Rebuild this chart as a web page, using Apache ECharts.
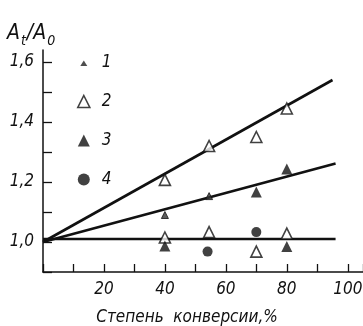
<!DOCTYPE html>
<html>
<head>
<meta charset="utf-8">
<script src="https://cdn.jsdelivr.net/npm/echarts@6/dist/echarts.min.js"></script>
<style>
  html, body { margin: 0; padding: 0; background: #fff; }
  #chart { width: 363px; height: 326px; }
</style>
</head>
<body>
<div id="chart"></div>
<script>
// точки (степень конверсии, At/A0)
var series1 = [[40, 1.09], [54.5, 1.153]]
var series2 = [[40, 1.207], [54.5, 1.32], [70, 1.35], [80, 1.445], [40, 1.015], [54.5, 1.033], [70, 0.968], [80, 1.028]]
var series3 = [[70, 1.167], [80, 1.243], [40, 0.987], [80, 0.985]]
var series4 = [[54, 0.968], [70, 1.033]]
// прямые
var lineUpper = [[0, 1.0], [95, 1.54]]
var lineMiddle = [[0, 1.0], [96, 1.262]]
var lineLower = [[0, 1.01], [96, 1.01]]
var xLabels = [20, 40, 60, 80, 100]
var yLabels = [1.0, 1.2, 1.4, 1.6]

var font = "'Liberation Sans Narrow', 'DejaVu Sans Condensed', sans-serif"
var myChart = echarts.init(document.getElementById('chart'))

function fitLine(data) {
  return {
    type: 'line',
    data: data,
    symbol: 'none',
    silent: true,
    legendHoverLink: false,
    lineStyle: { color: '#111', width: 2.6 },
    z: 1,
  }
}

myChart.setOption({
  animation: false,
  backgroundColor: '#fff',
  grid: { left: 43, right: 0, top: 50, bottom: 54, outerBoundsMode: 'none' },
  legend: {
    orient: 'vertical',
    left: 72,
    top: 49,
    itemWidth: 12,
    itemHeight: 12,
    itemGap: 22,
    data: [
      // маленький треугольник: лишние точки M задают поле вокруг значка
      { name: '1', icon: 'path://M0,0M12,12M2.5,9.5L6,4L9.5,9.5Z', itemStyle: { color: '#222', borderWidth: 0 } },
      { name: '2', icon: 'triangle', itemStyle: { color: '#fff', borderColor: '#111', borderWidth: 1.6 } },
      { name: '3', icon: 'triangle', itemStyle: { color: '#111', borderWidth: 0 } },
      { name: '4', icon: 'circle', itemStyle: { color: '#111', borderWidth: 0 } },
    ],
    textStyle: {
      fontFamily: font,
      fontStyle: 'italic',
      fontSize: 17,
      color: '#111',
      padding: [0, 0, 0, 7],
    },
  },
  xAxis: {
    type: 'value',
    min: 0,
    max: 105,
    interval: 10,
    splitLine: { show: false },
    axisLine: { lineStyle: { color: '#111', width: 1.5 } },
    axisTick: { inside: true, length: 8, lineStyle: { color: '#111', width: 1.3 } },
    axisLabel: {
      margin: 9,
      fontFamily: font,
      fontStyle: 'italic',
      fontSize: 17,
      color: '#111',
      formatter: function (v) {
        return xLabels.indexOf(Math.round(v)) >= 0 ? String(Math.round(v)) : ''
      },
    },
    name: 'Степень  конверсии,%',
    nameLocation: 'middle',
    nameGap: 37,
    nameTextStyle: {
      fontFamily: font,
      fontStyle: 'italic',
      fontSize: 17,
      color: '#111',
      padding: [0, 32, 0, 0],
    },
  },
  yAxis: {
    type: 'value',
    min: 0.9,
    max: 1.64,
    interval: 0.1,
    splitLine: { show: false },
    axisLine: { lineStyle: { color: '#111', width: 1.5 } },
    axisTick: { inside: true, length: 9, lineStyle: { color: '#111', width: 1.3 } },
    axisLabel: {
      margin: 9,
      fontFamily: font,
      fontStyle: 'italic',
      fontSize: 17,
      color: '#111',
      formatter: function (v) {
        var r = Math.round(v * 10) / 10
        var ok = yLabels.some(function (y) { return Math.abs(y - r) < 1e-6 })
        return ok ? r.toFixed(1).replace('.', ',') : ''
      },
    },
    name: '{a|A}{s|t}{a|/A}{s|0}',
    nameLocation: 'end',
    nameGap: 2,
    nameTextStyle: {
      align: 'left',
      padding: [0, 0, 0, -36],
      rich: {
        a: { fontFamily: font, fontStyle: 'italic', fontSize: 21, color: '#111' },
        s: { fontFamily: font, fontStyle: 'italic', fontSize: 14, color: '#111', padding: [14, 1, 0, 1] },
      },
    },
  },
  series: [
    fitLine(lineUpper),
    fitLine(lineMiddle),
    fitLine(lineLower),
    {
      name: '1',
      type: 'scatter',
      data: series1,
      symbol: 'triangle',
      symbolSize: 7,
      itemStyle: { color: '#333', borderColor: '#111', borderWidth: 1 },
      z: 3,
    },
    {
      name: '2',
      type: 'scatter',
      data: series2,
      symbol: 'triangle',
      symbolSize: 11,
      itemStyle: { color: '#fff', borderColor: '#111', borderWidth: 1.6 },
      z: 3,
    },
    {
      name: '3',
      type: 'scatter',
      data: series3,
      symbol: 'triangle',
      symbolSize: 11,
      itemStyle: { color: '#111' },
      z: 3,
    },
    {
      name: '4',
      type: 'scatter',
      data: series4,
      symbol: 'circle',
      symbolSize: 10,
      itemStyle: { color: '#111' },
      z: 3,
    },
  ],
})
</script>
</body>
</html>
